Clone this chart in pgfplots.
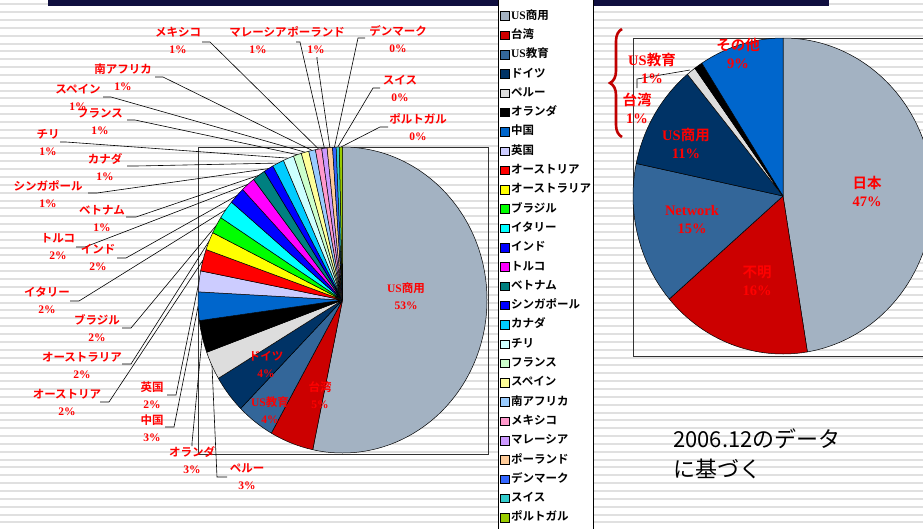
\documentclass[border=0pt]{standalone}
\usepackage{pgfplots}
\pgfplotsset{compat=1.18}
\usepackage{pgfplotstable}
\usepackage{fontspec}
\setmainfont{Liberation Serif}
\newfontfamily\jp{Noto Sans CJK JP}[BoldFont={Noto Sans CJK JP Bold}]
\usetikzlibrary{decorations.pathreplacing}
\newcommand\J[1]{{\jp #1}}
\definecolor{c1}{HTML}{A3B2C2}
\definecolor{c2}{HTML}{CC0000}
\definecolor{c3}{HTML}{336699}
\definecolor{c4}{HTML}{003366}
\definecolor{c5}{HTML}{DDDDDD}
\definecolor{c6}{HTML}{000000}
\definecolor{c7}{HTML}{0066CC}
\definecolor{c8}{HTML}{CCCCFF}
\definecolor{c9}{HTML}{FF0000}
\definecolor{c10}{HTML}{FFFF00}
\definecolor{c11}{HTML}{00FF00}
\definecolor{c12}{HTML}{00FFFF}
\definecolor{c13}{HTML}{0000FF}
\definecolor{c14}{HTML}{FF00FF}
\definecolor{c15}{HTML}{008080}
\definecolor{c16}{HTML}{0000FF}
\definecolor{c17}{HTML}{00CCFF}
\definecolor{c18}{HTML}{CCFFFF}
\definecolor{c19}{HTML}{CCFFCC}
\definecolor{c20}{HTML}{FFFF99}
\definecolor{c21}{HTML}{99CCFF}
\definecolor{c22}{HTML}{FF99CC}
\definecolor{c23}{HTML}{CC99FF}
\definecolor{c24}{HTML}{FFCC99}
\definecolor{c25}{HTML}{3366FF}
\definecolor{c26}{HTML}{33CCCC}
\definecolor{c27}{HTML}{99CC00}
\definecolor{topbar}{HTML}{100F40}
\definecolor{bracered}{HTML}{C00000}

% left pie: centre (px) and "share in percent:colour"
\pgfplotstableread{
x y pm
342.5 300 53.3:c1
342.5 300 4.9:c2
342.5 300 4.25:c3
342.5 300 4.0:c4
342.5 300 3.0:c5
342.5 300 3.4:c6
342.5 300 3.0:c7
342.5 300 2.2:c8
342.5 300 2.3:c9
342.5 300 1.9:c10
342.5 300 1.8:c11
342.5 300 2.0:c12
342.5 300 1.8:c13
342.5 300 1.6:c14
342.5 300 1.45:c15
342.5 300 1.1:c16
342.5 300 1.3:c17
342.5 300 1.2:c18
342.5 300 0.9:c19
342.5 300 0.85:c20
342.5 300 0.75:c21
342.5 300 0.7:c22
342.5 300 0.6:c23
342.5 300 0.6:c24
342.5 300 0.4:c25
342.5 300 0.35:c26
342.5 300 0.35:c27
}\leftpie
% right pie
\pgfplotstableread{
x y pm
783 196 47.4:c1
783 196 16.3:c2
783 196 14.6:c3
783 196 10.7:c4
783 196 1.0:c5
783 196 0.9:c6
783 196 9.1:c7
}\rightpie

\pgfdeclareplotmark{nothing}{}
\gdef\cumL{0}
\gdef\cumR{0}
\def\parsepm#1:#2\relax{\def\sval{#1}\def\scol{#2}}
\newcommand\sector[2]{%
  \filldraw[fill=\scol,draw=black,line width=0.5pt,line join=round]
    (0pt,0pt) -- ({#1*cos(\aone)},{#2*sin(\aone)})
    arc[start angle=\aone,end angle=\atwo,x radius=#1,y radius=#2] -- cycle;}
\newcommand\pieL{%
  \expandafter\parsepm\pgfplotspointmeta\relax
  \pgfmathsetmacro\aone{90-3.6*\cumL}%
  \pgfmathsetmacro\tmp{\cumL+\sval}%
  \pgfmathsetmacro\atwo{90-3.6*\tmp}%
  \global\let\cumL\tmp
  \sector{144.5pt}{153pt}}
\newcommand\pieR{%
  \expandafter\parsepm\pgfplotspointmeta\relax
  \pgfmathsetmacro\aone{90-3.6*\cumR}%
  \pgfmathsetmacro\tmp{\cumR+\sval}%
  \pgfmathsetmacro\atwo{90-3.6*\tmp}%
  \global\let\cumR\tmp
  \sector{150pt}{158pt}}
\newcommand\leader[3]{\draw[lead] (axis cs:#1) -- (axis cs:#2) -- (axis cs:{342.5+144.5*sin(#3)},{300-153*cos(#3)});}
% labels are placed after the axis, in pixel units (y from the top)
\newcommand\lab[4]{\node[lbl] at (#1,{528-(#2)}) {#3}; \node[lbl] at (#1,{528-(#2)-17}) {#4};}
\newcommand\rlab[4]{\node[rlbl] at (#1,{528-(#2)}) {#3}; \node[rlbl] at (#1,{528-(#2)-18}) {#4};}

\begin{document}
\begin{tikzpicture}[x=1pt,y=1pt,
  lbl/.style={text=red, inner sep=0pt, font=\fontsize{11.5}{13}\selectfont\bfseries, text height=9pt, text depth=2.5pt},
  rlbl/.style={text=red, inner sep=0pt, font=\fontsize{14.5}{16}\selectfont\bfseries, text height=11pt, text depth=3pt},
  lead/.style={black, line width=0.6pt}]
\useasboundingbox (0,0) rectangle (923,528);
\clip (0,0) rectangle (923,528);
\fill[white] (0,0) rectangle (923,528);
\foreach \k in {0,...,67}{\fill[gray!24] (0,{528-4.3-7.85*\k-1}) rectangle (923,{528-4.3-7.85*\k+1});}
\begin{axis}[
  at={(0,0)}, anchor=south west,
  x=1pt, y=1pt, xmin=0, xmax=923, ymin=0, ymax=528, y dir=reverse,
  hide axis, clip=false,
  legend image code/.code={\draw[#1,draw=black,line width=0.4pt] (0pt,-4.25pt) rectangle (8.5pt,4.25pt);},
  legend cell align=left,
  legend style={at={(0.539,1.0227)}, anchor=north west, draw=black, line width=0.5pt, fill=white,
    inner xsep=2.5pt, inner ysep=18pt, row sep=0pt, column sep=2pt,
    font=\fontsize{11.5}{13}\selectfont\bfseries,
    nodes={inner sep=0pt, minimum height=19.3pt, text height=9pt, text depth=2.5pt}},
]
% top bar
\fill[topbar] (axis cs:48,0) rectangle (axis cs:829,6);
% plot areas
\draw[black!80, line width=0.7pt] (axis cs:198,147.5) rectangle (axis cs:488,454);
\draw[black!80, line width=0.7pt] (axis cs:633,38) rectangle (axis cs:940,356);

\addplot[forget plot, scatter, only marks, mark=nothing, point meta=explicit symbolic,
  scatter/@pre marker code/.code={\pieL}, scatter/@post marker code/.code={}]
  table[x=x,y=y,meta=pm] {\leftpie};
\addplot[forget plot, scatter, only marks, mark=nothing, point meta=explicit symbolic,
  scatter/@pre marker code/.code={\pieR}, scatter/@post marker code/.code={}]
  table[x=x,y=y,meta=pm] {\rightpie};

% leader lines, left pie
\leader{227,477}{217,477}{244.6}
\leader{192,446}{192,443}{256.1}
\leader{165,427}{174,427}{267.7}
\leader{167,395}{176,395}{277.0}
\leader{100,402}{109,402}{285.1}
\leader{122,364}{131,364}{292.7}
\leader{122,328}{131,328}{299.3}
\leader{70,301}{79,301}{306.2}
\leader{117,258}{126,258}{313.0}
\leader{76,247}{85,247}{319.1}
\leader{126,217}{136,217}{324.6}
\leader{88,193}{97,193}{329.2}
\leader{127,166}{136,166}{333.5}
\leader{60,142}{66,142}{338.0}
\leader{127,120}{135,120}{341.8}
\leader{103,97}{111,97}{345.0}
\leader{155,77}{163,77}{347.85}
\leader{202,42}{210,42}{350.5}
\leader{296,42}{300,42}{352.8}
\leader{317,57}{317,59}{355.0}
\leader{365,38}{358,38}{356.8}
\leader{380,88}{373,88}{358.1}
\leader{388,127}{380,127}{359.4}
\draw[lead] (axis cs:637,88) -- (axis cs:637,79) -- (axis cs:690,70);

% brace
\draw[bracered, line width=2.6pt, decorate, decoration={brace, amplitude=12pt}] (axis cs:622,137) -- (axis cs:622,29);

% legend
\addlegendimage{fill=c1}\addlegendentry{\textbf{US}\J{商用}}
\addlegendimage{fill=c2}\addlegendentry{\J{台湾}}
\addlegendimage{fill=c3}\addlegendentry{\textbf{US}\J{教育}}
\addlegendimage{fill=c4}\addlegendentry{\J{ドイツ}}
\addlegendimage{fill=c5}\addlegendentry{\J{ペルー}}
\addlegendimage{fill=c6}\addlegendentry{\J{オランダ}}
\addlegendimage{fill=c7}\addlegendentry{\J{中国}}
\addlegendimage{fill=c8}\addlegendentry{\J{英国}}
\addlegendimage{fill=c9}\addlegendentry{\J{オーストリア}}
\addlegendimage{fill=c10}\addlegendentry{\J{オーストラリア}}
\addlegendimage{fill=c11}\addlegendentry{\J{ブラジル}}
\addlegendimage{fill=c12}\addlegendentry{\J{イタリー}}
\addlegendimage{fill=c13}\addlegendentry{\J{インド}}
\addlegendimage{fill=c14}\addlegendentry{\J{トルコ}}
\addlegendimage{fill=c15}\addlegendentry{\J{ベトナム}}
\addlegendimage{fill=c16}\addlegendentry{\J{シンガポール}}
\addlegendimage{fill=c17}\addlegendentry{\J{カナダ}}
\addlegendimage{fill=c18}\addlegendentry{\J{チリ}}
\addlegendimage{fill=c19}\addlegendentry{\J{フランス}}
\addlegendimage{fill=c20}\addlegendentry{\J{スペイン}}
\addlegendimage{fill=c21}\addlegendentry{\J{南アフリカ}}
\addlegendimage{fill=c22}\addlegendentry{\J{メキシコ}}
\addlegendimage{fill=c23}\addlegendentry{\J{マレーシア}}
\addlegendimage{fill=c24}\addlegendentry{\J{ポーランド}}
\addlegendimage{fill=c25}\addlegendentry{\J{デンマーク}}
\addlegendimage{fill=c26}\addlegendentry{\J{スイス}}
\addlegendimage{fill=c27}\addlegendentry{\J{ポルトガル}}
\end{axis}

% labels, left pie
\lab{406}{289}{\textbf{US}\J{商用}}{53\%}
\lab{320}{388}{\J{台湾}}{5\%}
\lab{270}{403}{\textbf{US}\J{教育}}{4\%}
\lab{266}{357}{\J{ドイツ}}{4\%}
\lab{247}{469}{\J{ペルー}}{3\%}
\lab{192}{453}{\J{オランダ}}{3\%}
\lab{152}{421}{\J{中国}}{3\%}
\lab{152}{388}{\J{英国}}{2\%}
\lab{67}{395}{\J{オーストリア}}{2\%}
\lab{82}{358}{\J{オーストラリア}}{2\%}
\lab{97}{321}{\J{ブラジル}}{2\%}
\lab{47}{293}{\J{イタリー}}{2\%}
\lab{98}{250}{\J{インド}}{2\%}
\lab{58}{239}{\J{トルコ}}{2\%}
\lab{102}{211}{\J{ベトナム}}{1\%}
\lab{48}{187}{\J{シンガポール}}{1\%}
\lab{105}{160}{\J{カナダ}}{1\%}
\lab{48}{135}{\J{チリ}}{1\%}
\lab{100}{114}{\J{フランス}}{1\%}
\lab{78}{90}{\J{スペイン}}{1\%}
\lab{123}{70}{\J{南アフリカ}}{1\%}
\lab{178}{33}{\J{メキシコ}}{1\%}
\lab{258}{33}{\J{マレーシア}}{1\%}
\lab{316}{33}{\J{ポーランド}}{1\%}
\lab{398}{32}{\J{デンマーク}}{0\%}
\lab{400}{81}{\J{スイス}}{0\%}
\lab{418}{120}{\J{ポルトガル}}{0\%}

% labels, right pie
\rlab{867}{185}{\J{日本}}{47\%}
\rlab{757}{273}{\J{不明}}{16\%}
\rlab{692}{212}{\textbf{Network}}{15\%}
\rlab{686}{137}{\textbf{US}\J{商用}}{11\%}
\rlab{637}{102}{\J{台湾}}{1\%}
\rlab{652}{62}{\textbf{US}\J{教育}}{1\%}
\rlab{738}{47}{\J{その他}}{9\%}

% note
\node[anchor=base west, inner sep=0pt, font=\jp\fontsize{22}{26}\selectfont] at (673,{528-447}) {2006.12のデータ};
\node[anchor=base west, inner sep=0pt, font=\jp\fontsize{22}{26}\selectfont] at (673,{528-477}) {に基づく};
\end{tikzpicture}
\end{document}
